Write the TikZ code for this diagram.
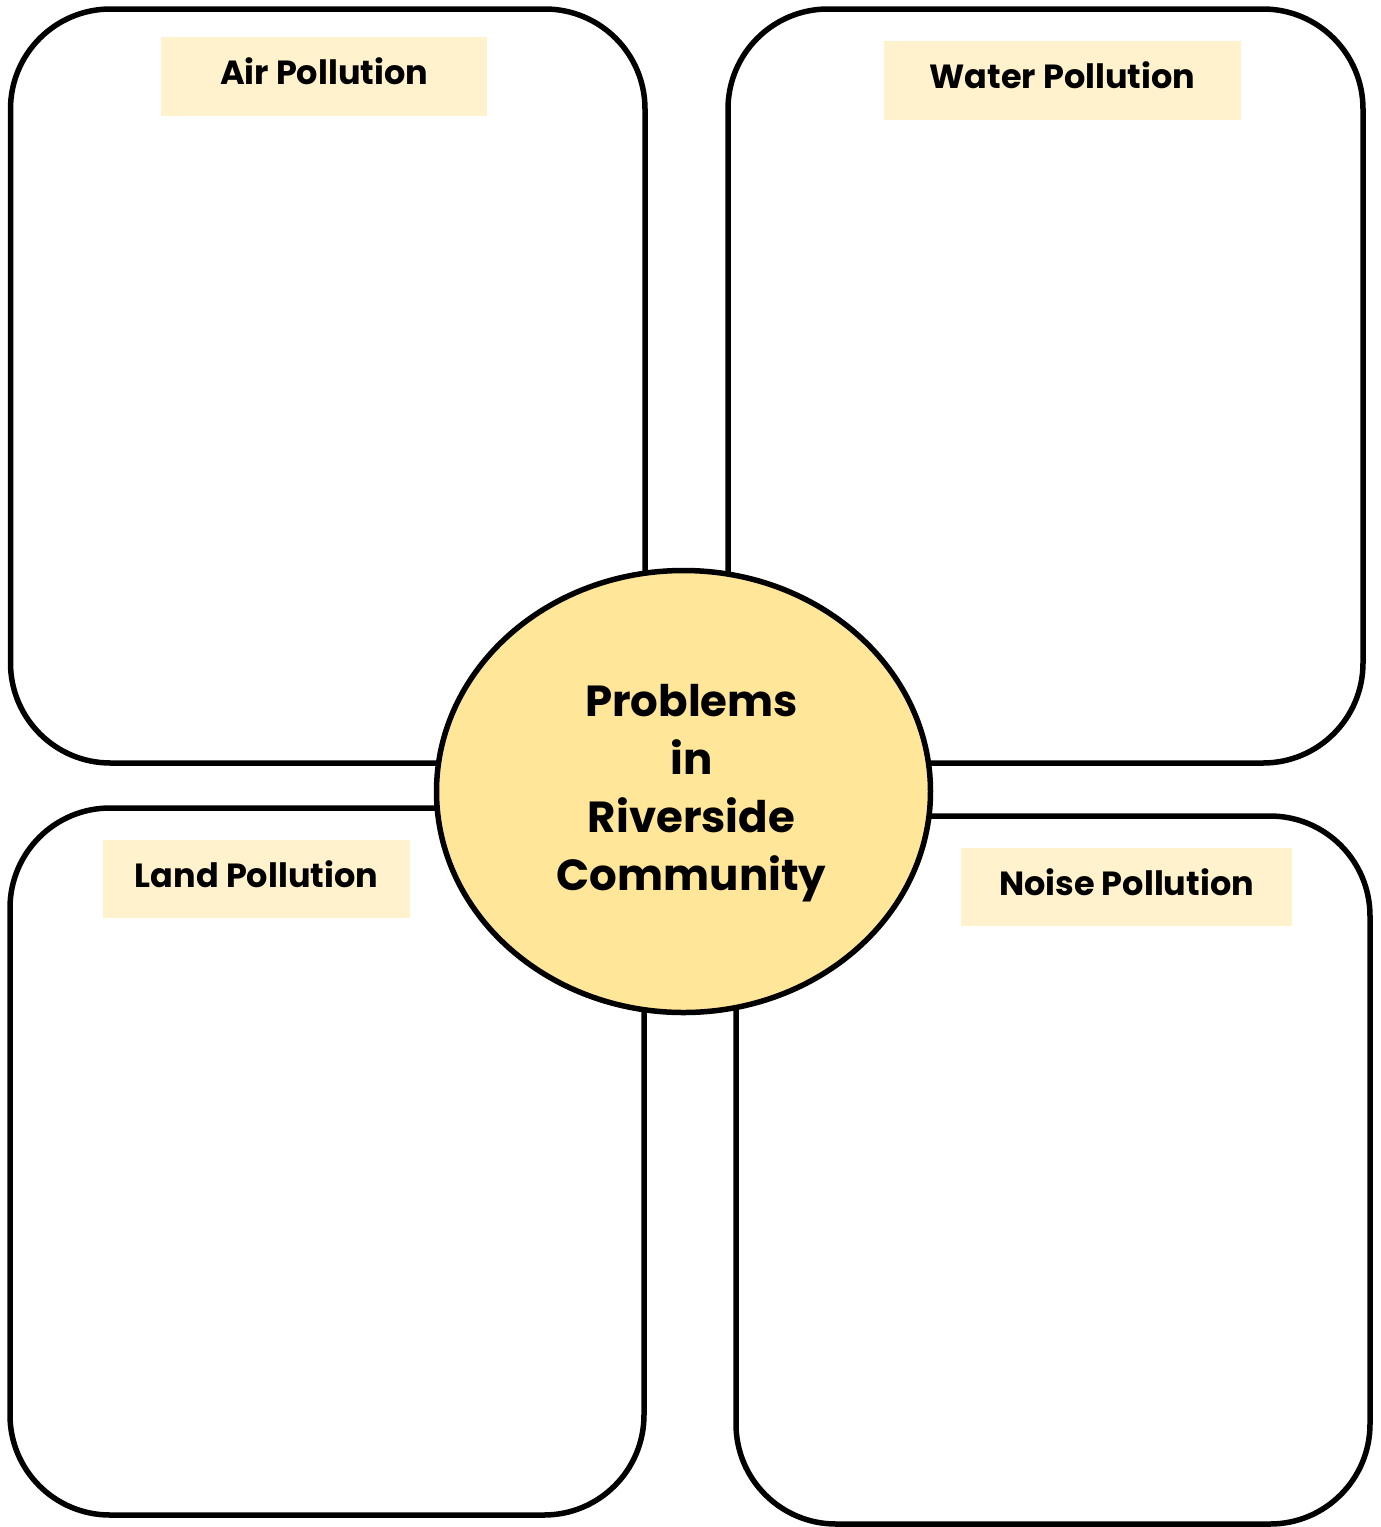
\documentclass[tikz,border=0pt]{standalone}
\usepackage{fontspec}
\setmainfont{Poppins}
\usetikzlibrary{shapes.geometric}
\definecolor{labelfill}{HTML}{FFF2CC}
\definecolor{hubfill}{HTML}{FFE699}
\tikzset{
  panel/.style={draw=black, line width=5.5pt, rectangle, rounded corners=100pt, fill=white, inner sep=0pt},
  tag/.style={fill=labelfill, rectangle, inner sep=0pt, text height=24pt, text depth=8pt, font=\fontsize{33.5}{40}\selectfont\bfseries},
  hub/.style={draw=black, line width=5.5pt, ellipse, fill=hubfill, inner sep=0pt},
}
\begin{document}
\begin{tikzpicture}[x=1pt,y=-1pt]
\useasboundingbox (0,0) rectangle (1381,1527);
\node[panel, minimum width=634.5pt, minimum height=754pt] (tl) at (327.75,386) {};
\node[panel, minimum width=635pt, minimum height=754pt] (tr) at (1045.5,386) {};
\node[panel, minimum width=634pt, minimum height=707pt] (bl) at (327,1161.5) {};
\node[panel, minimum width=634pt, minimum height=708pt] (br) at (1053,1170) {};
\node[hub, minimum width=494pt, minimum height=442pt] (hub) at (683.5,791.5) {};
\node[font=\fontsize{43.5}{58}\selectfont\bfseries, align=center] (ctext) at (691.5,793) {Problems\\in\\Riverside\\Community};
\node[tag, minimum width=326pt, minimum height=79pt] (air) at (324,76.5) {Air Pollution};
\node[tag, minimum width=357pt, minimum height=79pt] (water) at (1062.5,80.5) {Water Pollution};
\node[tag, minimum width=307pt, minimum height=78pt] (land) at (256.5,879) {Land Pollution};
\node[tag, minimum width=331pt, minimum height=78pt] (noise) at (1126.5,887) {Noise Pollution};
\end{tikzpicture}
\end{document}
